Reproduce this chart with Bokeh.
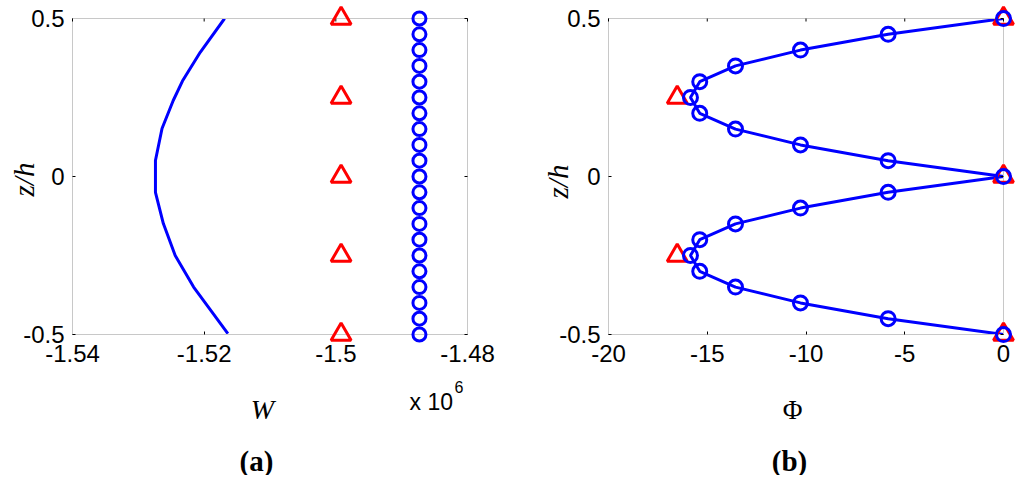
import math
from bokeh.plotting import figure
from bokeh.models import Range1d, FixedTicker, CustomJSTickFormatter
from bokeh.core.properties import value
from bokeh.layouts import row
from bokeh.embed import file_html
from bokeh.resources import INLINE

# ---------------- data (panel a: W in units of 1e6) ----------------
z_line_a = [0.5, 0.393, 0.302, 0.2405, 0.152, 0.0506, -0.050, -0.149, -0.250, -0.350, -0.429, -0.497]
w_line_a = [-1.5169, -1.5206, -1.5233, -1.5247, -1.5264, -1.5274, -1.5274, -1.5262, -1.5244, -1.5216, -1.5188, -1.5164]

z_circ_a = [0.5, 0.45, 0.4, 0.35, 0.3, 0.25, 0.2, 0.15, 0.1, 0.05, 0.0,
            -0.05, -0.1, -0.15, -0.2, -0.25, -0.3, -0.35, -0.4, -0.45, -0.5]
w_circ_a = [-1.4873, -1.4873, -1.4873, -1.4873, -1.4873, -1.4873, -1.4873,
            -1.4873, -1.4873, -1.4873, -1.4873, -1.4873, -1.4873, -1.4873,
            -1.4873, -1.4873, -1.4873, -1.4873, -1.4873, -1.4873, -1.4873]

z_tri_a = [0.5, 0.25, 0.0, -0.25, -0.5]
w_tri_a = [-1.4992, -1.4992, -1.4992, -1.4992, -1.4992]

# ---------------- data (panel b: Phi) ----------------
z_b = [0.5, 0.45, 0.4, 0.35, 0.3, 0.25, 0.2, 0.15, 0.1, 0.05, 0.0,
       -0.05, -0.1, -0.15, -0.2, -0.25, -0.3, -0.35, -0.4, -0.45, -0.5]
phi_b = [0.0, -5.84, -10.28, -13.57, -15.38, -15.85, -15.38, -13.57, -10.28, -5.84, 0.0,
         -5.84, -10.28, -13.57, -15.38, -15.85, -15.38, -13.57, -10.28, -5.84, 0.0]

z_tri_b = [0.5, 0.25, 0.0, -0.25, -0.5]
phi_tri_b = [0.0, -16.52, 0.0, -16.52, 0.0]

# ---------------- axes ----------------
xlim_a = (-1.54, -1.48)
xticks_a = [-1.54, -1.52, -1.50, -1.48]
xlim_b = (-20.0, 0.0)
xticks_b = [-20, -15, -10, -5, 0]
zlim = (-0.5, 0.5)
zticks = [-0.5, 0.0, 0.5]

BLUE = "#0000ff"
RED = "#ff0000"
GRAY = "#c8c8c8"
H = 475
TOP = 18
FRAME_H = 316
FRAME_W = 395


def style_axis(ax, standoff):
    ax.formatter = CustomJSTickFormatter(code="return String(Math.round(tick*100)/100);")
    ax.axis_line_color = GRAY
    ax.axis_line_width = 1
    ax.major_tick_line_color = "black"
    ax.major_tick_in = 3
    ax.major_tick_out = 0
    ax.minor_tick_line_color = None
    ax.major_label_text_font = "Liberation Sans"
    ax.major_label_text_font_size = "24px"
    ax.major_label_text_color = "black"
    ax.major_label_standoff = standoff


def make_panel(xlim, xticks, width, mbl, mbr):
    p = figure(width=width, height=H,
               x_range=Range1d(*xlim), y_range=Range1d(*zlim),
               output_backend="svg", toolbar_location=None,
               min_border_left=mbl, min_border_right=mbr,
               min_border_top=TOP, min_border_bottom=H - TOP - FRAME_H)
    p.outline_line_color = None
    p.grid.visible = False
    p.background_fill_color = "white"
    p.border_fill_color = "white"

    p.xaxis.ticker = FixedTicker(ticks=xticks)
    p.yaxis.ticker = FixedTicker(ticks=zticks)
    style_axis(p.xaxis[0], 10)
    style_axis(p.yaxis[0], 8)

    # top and right sides of the box
    box = p.segment(x0=[xlim[0], xlim[1]], y0=[zlim[1], zlim[0]],
                    x1=[xlim[1], xlim[1]], y1=[zlim[1], zlim[1]],
                    line_color=GRAY, line_width=1)
    box.level = "overlay"
    # inward tick marks on top and right
    t1 = p.ray(x=xticks, y=[zlim[1]] * len(xticks), length=3, length_units="screen",
               angle=-math.pi / 2, line_color="black", line_width=1)
    t2 = p.ray(x=[xlim[1]] * len(zticks), y=zticks, length=3, length_units="screen",
               angle=math.pi, line_color="black", line_width=1)
    t1.level = "overlay"
    t2.level = "overlay"
    return p


def add_text(p, xlim, frame_left, px, py, text, font, size, style="normal",
             angle=0.0, align="center"):
    # page pixel position -> data coordinates through the panel's own scale
    x = xlim[0] + (px - frame_left) / FRAME_W * (xlim[1] - xlim[0])
    y = zlim[1] - (py - TOP) / FRAME_H * (zlim[1] - zlim[0])
    r = p.text(x=[x], y=[y], text=[text], angle=angle,
               text_align=align, text_baseline="middle",
               text_font=value(font), text_font_style=value(style),
               text_font_size=value(size), text_color="black")
    r.level = "overlay"


# ---------------- panel (a) ----------------
pa = make_panel(xlim_a, xticks_a, 540, 72, 73)
pa.line(w_line_a, z_line_a, line_color=BLUE, line_width=3)
ra1 = pa.scatter(w_tri_a, z_tri_a, marker="triangle", size=20, line_color=RED,
                 fill_color=None, line_width=3)
ra2 = pa.scatter(w_circ_a, z_circ_a, marker="circle", size=13, line_color=BLUE,
                 fill_color=None, line_width=3)
ra1.level = "overlay"
ra2.level = "overlay"

add_text(pa, xlim_a, 72, 23, 179, "z/h", "Liberation Serif", "29px", "italic", math.pi / 2)
add_text(pa, xlim_a, 72, 262, 409, "W", "Liberation Serif", "28px", "italic")
add_text(pa, xlim_a, 72, 409, 401, "x 10", "Liberation Sans", "23px", align="left")
add_text(pa, xlim_a, 72, 454, 386, "6", "Liberation Sans", "16px", align="left")
add_text(pa, xlim_a, 72, 256, 460, "(a)", "Liberation Serif", "29px", "bold")

# ---------------- panel (b) ----------------
pb = make_panel(xlim_b, xticks_b, 484, 68, 21)
pb.line(phi_b, z_b, line_color=BLUE, line_width=3)
rb1 = pb.scatter(phi_tri_b, z_tri_b, marker="triangle", size=20, line_color=RED,
                 fill_color=None, line_width=3)
rb2 = pb.scatter(phi_b, z_b, marker="circle", size=14, line_color=BLUE,
                 fill_color=None, line_width=3)
rb1.level = "overlay"
rb2.level = "overlay"

add_text(pb, xlim_b, 608, 557, 181, "z/h", "Liberation Serif", "29px", "italic", math.pi / 2)
add_text(pb, xlim_b, 608, 792, 409, "Φ", "Liberation Serif", "27px")
add_text(pb, xlim_b, 608, 789, 460, "(b)", "Liberation Serif", "29px", "bold")

layout = row(pa, pb)
open("out.html", "w").write(file_html(layout, INLINE))
